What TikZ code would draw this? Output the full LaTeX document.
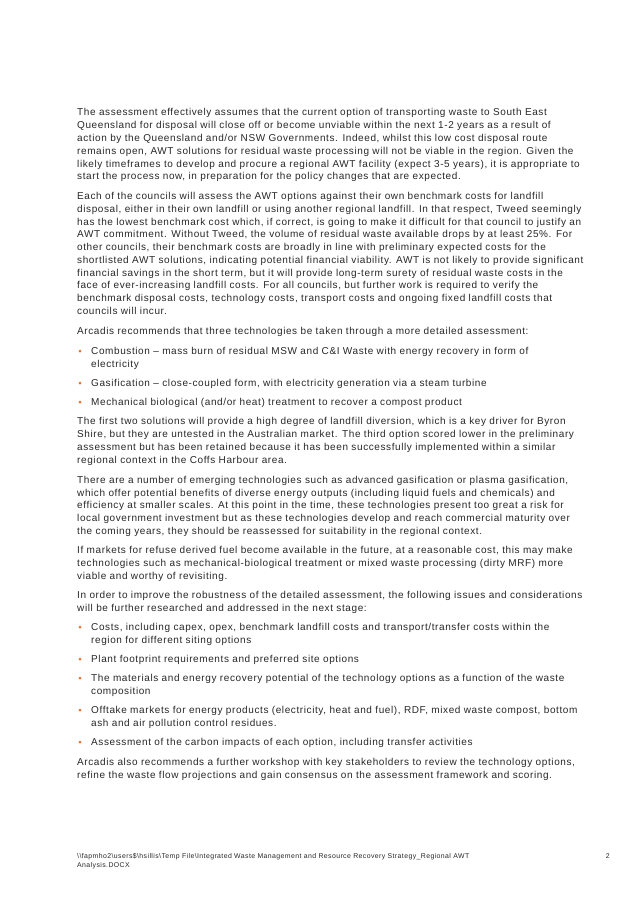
\documentclass[tikz,border=0pt]{standalone}
\usepackage{fontspec}
\setmainfont{Liberation Sans}[LetterSpace=6]
\definecolor{bulletor}{RGB}{232,110,40}
\definecolor{txt}{RGB}{40,40,40}
\newcounter{lnc}
\tikzset{ln/.style={anchor=base west,inner sep=0pt,font=\fontsize{10pt}{11pt}\selectfont,text=txt},
 foot/.style={anchor=base west,inner sep=0pt,font=\fontsize{6.9pt}{8pt}\selectfont,text=txt},
 bul/.style={circle,fill=bulletor,inner sep=0pt,minimum size=3pt}}
\newcommand{\TL}[2]{\stepcounter{lnc}\node[ln,name=ln\thelnc] at (77,#1+3.5) {#2};}
\newcommand{\BL}[2]{\stepcounter{lnc}\node[bul,name=b\thelnc] at (80,#1) {};\node[ln,name=ln\thelnc] at (91,#1+3.5) {#2};}
\newcommand{\IL}[2]{\stepcounter{lnc}\node[ln,name=ln\thelnc] at (91,#1+3.5) {#2};}
\begin{document}
\begin{tikzpicture}[x=1pt,y=-1pt]
\useasboundingbox[fill=white] (0,0) rectangle (638,900);
\TL{112}{The assessment effectively assumes that the current option of transporting waste to South East}
\TL{125}{Queensland for disposal will close off or become unviable within the next 1-2 years as a result of}
\TL{138}{action by the Queensland and/or NSW Governments. Indeed, whilst this low cost disposal route}
\TL{151}{remains open, AWT solutions for residual waste processing will not be viable in the region. Given the}
\TL{164}{likely timeframes to develop and procure a regional AWT facility (expect 3-5 years), it is appropriate to}
\TL{176}{start the process now, in preparation for the policy changes that are expected.}
\TL{196}{Each of the councils will assess the AWT options against their own benchmark costs for landfill}
\TL{209}{disposal, either in their own landfill or using another regional landfill. In that respect, Tweed seemingly}
\TL{222}{has the lowest benchmark cost which, if correct, is going to make it difficult for that council to justify an}
\TL{234}{AWT commitment. Without Tweed, the volume of residual waste available drops by at least 25\%. For}
\TL{247}{other councils, their benchmark costs are broadly in line with preliminary expected costs for the}
\TL{260}{shortlisted AWT solutions, indicating potential financial viability. AWT is not likely to provide significant}
\TL{273}{financial savings in the short term, but it will provide long-term surety of residual waste costs in the}
\TL{285}{face of ever-increasing landfill costs. For all councils, but further work is required to verify the}
\TL{298}{benchmark disposal costs, technology costs, transport costs and ongoing fixed landfill costs that}
\TL{311}{councils will incur.}
\TL{331}{Arcadis recommends that three technologies be taken through a more detailed assessment:}
\BL{351}{Combustion – mass burn of residual MSW and C\&I Waste with energy recovery in form of}
\IL{364}{electricity}
\BL{383}{Gasification – close-coupled form, with electricity generation via a steam turbine}
\BL{402}{Mechanical biological (and/or heat) treatment to recover a compost product}
\TL{421}{The first two solutions will provide a high degree of landfill diversion, which is a key driver for Byron}
\TL{434}{Shire, but they are untested in the Australian market. The third option scored lower in the preliminary}
\TL{447}{assessment but has been retained because it has been successfully implemented within a similar}
\TL{460}{regional context in the Coffs Harbour area.}
\TL{480}{There are a number of emerging technologies such as advanced gasification or plasma gasification,}
\TL{493}{which offer potential benefits of diverse energy outputs (including liquid fuels and chemicals) and}
\TL{505}{efficiency at smaller scales. At this point in the time, these technologies present too great a risk for}
\TL{518}{local government investment but as these technologies develop and reach commercial maturity over}
\TL{531}{the coming years, they should be reassessed for suitability in the regional context.}
\TL{550}{If markets for refuse derived fuel become available in the future, at a reasonable cost, this may make}
\TL{563}{technologies such as mechanical-biological treatment or mixed waste processing (dirty MRF) more}
\TL{576}{viable and worthy of revisiting.}
\TL{595}{In order to improve the robustness of the detailed assessment, the following issues and considerations}
\TL{608}{will be further researched and addressed in the next stage:}
\BL{627}{Costs, including capex, opex, benchmark landfill costs and transport/transfer costs within the}
\IL{640}{region for different siting options}
\BL{659}{Plant footprint requirements and preferred site options}
\BL{678}{The materials and energy recovery potential of the technology options as a function of the waste}
\IL{691}{composition}
\BL{710}{Offtake markets for energy products (electricity, heat and fuel), RDF, mixed waste compost, bottom}
\IL{723}{ash and air pollution control residues.}
\BL{742}{Assessment of the carbon impacts of each option, including transfer activities}
\TL{762}{Arcadis also recommends a further workshop with key stakeholders to review the technology options,}
\TL{775}{refine the waste flow projections and gain consensus on the assessment framework and scoring.}
\node[foot] (f1) at (77,858) {\textbackslash\textbackslash fapmho2\textbackslash users\$\textbackslash hsillis\textbackslash Temp File\textbackslash Integrated Waste Management and Resource Recovery Strategy\_Regional AWT};
\node[foot] (f2) at (77,867) {Analysis.DOCX};
\node[foot,anchor=base east] (pg) at (610,858) {2};
\end{tikzpicture}
\end{document}
